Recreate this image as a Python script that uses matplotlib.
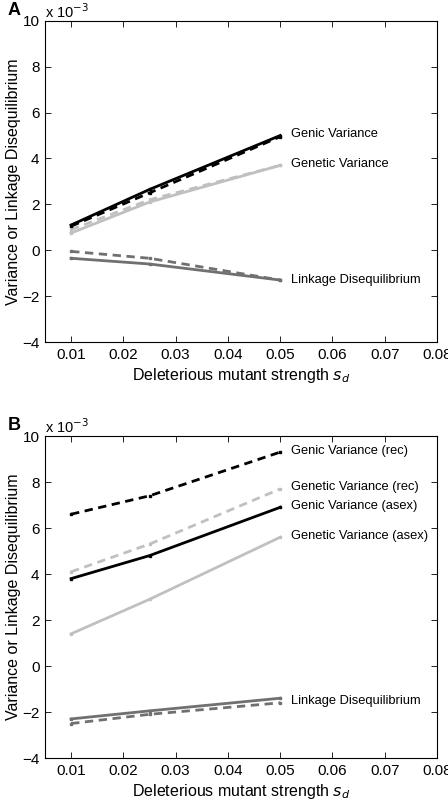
import matplotlib
matplotlib.use('Agg')
import matplotlib.pyplot as plt

plt.rcParams['font.family'] = ['Liberation Sans', 'DejaVu Sans']

# selection strengths
sd = [0.01, 0.025, 0.05]

# panel A (values in units of 1e-3)
a_genic_solid = [1.1, 2.65, 5.0]
a_genic_dash = [1.05, 2.5, 4.95]
a_genetic_solid = [0.75, 2.1, 3.7]
a_genetic_dash = [0.9, 2.2, 3.7]
a_ld_solid = [-0.35, -0.6, -1.3]
a_ld_dash = [-0.05, -0.35, -1.3]

# panel B
b_genic_rec = [6.6, 7.4, 9.3]
b_genetic_rec = [4.1, 5.3, 7.7]
b_genic_asex = [3.8, 4.8, 6.9]
b_genetic_asex = [1.4, 2.9, 5.6]
b_ld_asex = [-2.3, -1.95, -1.4]
b_ld_rec = [-2.5, -2.1, -1.6]

BLACK = '#000000'
LIGHT = '#c0c0c0'
DARK = '#707070'

fig = plt.figure(figsize=(4.48, 8.07), dpi=100)
axA = fig.add_axes([0.1004, 0.5762, 0.875, 0.398])
axB = fig.add_axes([0.1004, 0.0607, 0.875, 0.399])


def style(ax, letter):
    ax.set_xlim(0.005, 0.08)
    ax.set_ylim(-4, 10)
    ax.set_xticks([0.01, 0.02, 0.03, 0.04, 0.05, 0.06, 0.07, 0.08])
    ax.set_xticklabels(['0.01', '0.02', '0.03', '0.04', '0.05', '0.06', '0.07', '0.08'])
    ax.set_yticks(range(-4, 11, 2))
    ax.set_yticklabels(['\u22124', '\u22122', '0', '2', '4', '6', '8', '10'])
    ax.tick_params(direction='in', top=True, right=True, labelsize=11, length=4,
                   width=0.6, pad=4)
    for s in ax.spines.values():
        s.set_linewidth(0.8)
    ax.set_xlabel('Deleterious mutant strength $s_d$', fontsize=11.5, labelpad=3)
    ax.set_ylabel('Variance or Linkage Disequilibrium', fontsize=11.5, labelpad=1)
    ax.text(0.0, 1.0, 'x 10$^{-3}$', transform=ax.transAxes, fontsize=10.5,
            ha='left', va='bottom')
    ax.text(-0.095, 1.005, letter, transform=ax.transAxes, fontsize=13,
            fontweight='bold', ha='left', va='bottom')


def line(ax, y, color, dashed):
    ax.plot(sd, y, color=color, lw=2.0, ls=(0, (3, 2)) if dashed else '-',
            marker='s', ms=2, mfc=color, mec=color)


line(axA, a_genetic_solid, LIGHT, False)
line(axA, a_genetic_dash, LIGHT, True)
line(axA, a_ld_solid, DARK, False)
line(axA, a_ld_dash, DARK, True)
line(axA, a_genic_dash, BLACK, True)
line(axA, a_genic_solid, BLACK, False)
style(axA, 'A')
axA.text(0.052, 5.05, 'Genic Variance', fontsize=9.3, va='center')
axA.text(0.052, 3.75, 'Genetic Variance', fontsize=9.3, va='center')
axA.text(0.052, -1.28, 'Linkage Disequilibrium', fontsize=9.3, va='center')

line(axB, b_genetic_asex, LIGHT, False)
line(axB, b_genetic_rec, LIGHT, True)
line(axB, b_ld_asex, DARK, False)
line(axB, b_ld_rec, DARK, True)
line(axB, b_genic_asex, BLACK, False)
line(axB, b_genic_rec, BLACK, True)
style(axB, 'B')
axB.text(0.052, 9.35, 'Genic Variance (rec)', fontsize=9.3, va='center')
axB.text(0.052, 7.8, 'Genetic Variance (rec)', fontsize=9.3, va='center')
axB.text(0.052, 6.95, 'Genic Variance (asex)', fontsize=9.3, va='center')
axB.text(0.052, 5.65, 'Genetic Variance (asex)', fontsize=9.3, va='center')
axB.text(0.052, -1.5, 'Linkage Disequilibrium', fontsize=9.3, va='center')

fig.savefig('out.png', dpi=100)
